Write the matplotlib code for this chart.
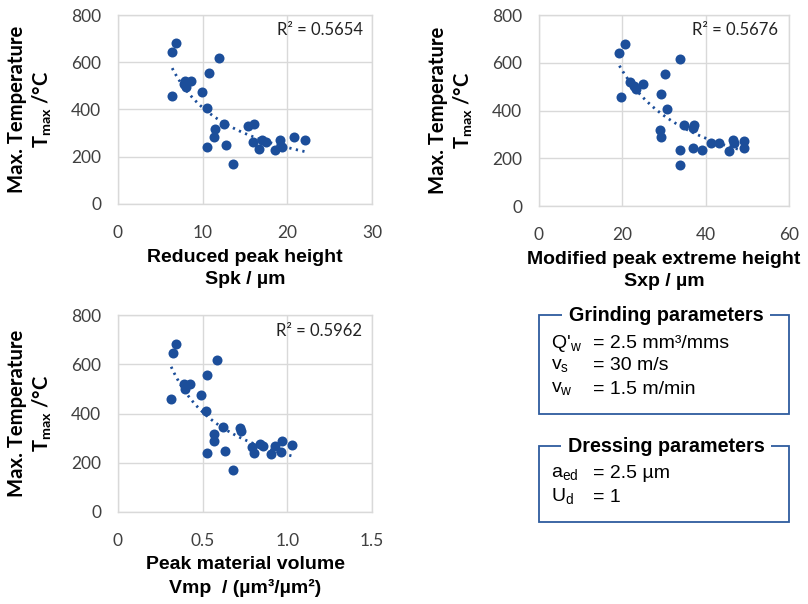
import matplotlib
matplotlib.use('Agg')
import matplotlib.pyplot as plt
import numpy as np
from matplotlib.patches import Rectangle

# Spk (reduced peak height) vs max temperature
spk = [6.9, 6.4, 11.9, 10.8, 7.9, 8.6, 8.0, 7.8, 6.4, 9.9, 10.5, 12.5, 11.5, 11.3,
       10.5, 12.7, 13.6, 15.4, 16.1, 15.9, 17.0, 17.5, 16.7, 19.1, 18.6, 19.4, 20.8, 22.1]
t_spk = [680, 643, 617, 554, 520, 520, 494, 510, 457, 474, 406, 337, 317, 285,
         243, 248, 169, 329, 339, 264, 271, 264, 234, 271, 229, 243, 282, 271]

# Sxp (modified peak extreme height)
sxp = [20.7, 19.3, 33.9, 30.3, 21.9, 24.9, 23.3, 22.7, 19.7, 29.3, 30.6, 34.8, 37.3, 37.0,
       29.0, 29.3, 33.9, 33.9, 36.9, 39.0, 41.2, 43.1, 45.6, 46.6, 46.7, 49.2, 49.2]
t_sxp = [677, 641, 614, 551, 520, 512, 492, 504, 457, 469, 406, 339, 339, 326,
         319, 288, 236, 171, 243, 236, 262, 264, 231, 276, 262, 273, 243]

# Vmp (peak material volume)
vmp = [0.340, 0.322, 0.582, 0.527, 0.389, 0.426, 0.396, 0.314, 0.488, 0.521, 0.618, 0.720, 0.726,
       0.568, 0.566, 0.527, 0.631, 0.679, 0.789, 0.838, 0.854, 0.805, 0.905, 0.929, 0.967, 0.965, 1.026]
t_vmp = [683, 645, 619, 558, 518, 518, 500, 460, 476, 410, 344, 340, 328,
         317, 290, 241, 246, 170, 264, 276, 268, 240, 236, 269, 287, 245, 273]

r2_labels = ['R² = 0.5654', 'R² = 0.5676', 'R² = 0.5962']
xlabels = ['Reduced peak height\nSpk / µm',
           'Modified peak extreme height\nSxp / µm',
           'Peak material volume\nVmp  / (µm³/µm²)']

grinding = [("Q'$_{\\mathregular{w}}$", '= 2.5 mm³/mms'),
            ('v$_{\\mathregular{s}}$', '= 30 m/s'),
            ('v$_{\\mathregular{w}}$', '= 1.5 m/min')]
dressing = [('a$_{\\mathregular{ed}}$', '= 2.5 µm'),
            ('U$_{\\mathregular{d}}$', '= 1')]

blue = '#1c4e9a'
grid_c = '#d9d9d9'
tick_font = ['Lato', 'DejaVu Sans']
label_font = ['Liberation Sans', 'DejaVu Sans']

W, H = 808, 604
fig = plt.figure(figsize=(W / 100, H / 100), dpi=100)


def px_axes(x0, y0, x1, y1):
    return fig.add_axes([x0 / W, 1 - y1 / H, (x1 - x0) / W, (y1 - y0) / H])


def scatter_panel(ax, x, y, xmax, xticks, xticklabels, r2, xlabel, r2_x, box):
    x0, y0, x1, y1 = box
    x = np.array(x)
    y = np.array(y)
    ax.scatter(x, y, s=52, color=blue, zorder=3, linewidths=0)
    # power trendline
    b, a = np.polyfit(np.log(x), np.log(y), 1)
    xs = np.linspace(x.min(), x.max(), 100)
    ax.plot(xs, np.exp(a) * xs ** b, color=blue, lw=2, ls=(0, (0.8, 1.6)), zorder=2)
    ax.set_xlim(0, xmax)
    ax.set_ylim(0, 800)
    ax.set_xticks(xticks)
    ax.set_xticklabels(xticklabels)
    ax.set_yticks([0, 200, 400, 600, 800])
    ax.grid(True, color=grid_c, lw=1)
    ax.set_axisbelow(True)
    for s in ax.spines.values():
        s.set_color(grid_c)
        s.set_linewidth(1)
    ax.tick_params(axis='y', length=0, labelsize=12.5, pad=12)
    ax.tick_params(axis='x', length=0, labelsize=12.5, pad=15)
    for t in ax.get_xticklabels() + ax.get_yticklabels():
        t.set_family(tick_font)
        t.set_color('#404040')
    ax.text(r2_x, 0.92, r2, transform=ax.transAxes, ha='right', va='center',
            fontsize=12, family=tick_font, color='#222222')
    yc = 1 - (y0 + y1) / 2 / H
    fig.text((x0 - 101) / W, yc, 'Max. Temperature', rotation=90,
             ha='center', va='center', fontsize=14.6, fontweight='bold', family=tick_font)
    fig.text((x0 - 76) / W, yc, 'T$_{\\mathregular{max}}$ /°C', rotation=90,
             ha='center', va='center', fontsize=14.6, fontweight='bold', family=tick_font)
    fig.text((x0 + x1) / 2 / W, 1 - (y1 + 64.5) / H, xlabel, ha='center', va='center',
             fontsize=14, fontweight='bold', family=label_font, linespacing=1.38)


b1 = (118, 15, 372, 204)
ax1 = px_axes(*b1)
scatter_panel(ax1, spk, t_spk, 30, [0, 10, 20, 30], ['0', '10', '20', '30'],
              r2_labels[0], xlabels[0], 0.965, b1)

b2 = (539, 15, 789, 206)
ax2 = px_axes(*b2)
scatter_panel(ax2, sxp, t_sxp, 60, [0, 20, 40, 60], ['0', '20', '40', '60'],
              r2_labels[1], xlabels[1], 0.955, b2)

b3 = (118, 315, 372, 512)
ax3 = px_axes(*b3)
scatter_panel(ax3, vmp, t_vmp, 1.5, [0, 0.5, 1.0, 1.5], ['0', '0.5', '1.0', '1.5'],
              r2_labels[2], xlabels[2], 0.96, b3)


def param_box(y_top, y_bot, title, rows):
    x0, x1 = 539, 789
    fig.patches.append(Rectangle((x0 / W, 1 - y_bot / H), (x1 - x0) / W, (y_bot - y_top) / H,
                                 transform=fig.transFigure, fill=False,
                                 edgecolor='#2e5c9e', lw=1.3))
    fig.text(666 / W, 1 - y_top / H, title, ha='center', va='center', fontsize=14.2,
             fontweight='bold', family='Liberation Sans',
             bbox=dict(facecolor='white', edgecolor='none', boxstyle='square,pad=0.35'))
    y = y_top + 28
    for name, val in rows:
        fig.text(551 / W, 1 - y / H, name, ha='left', va='center', fontsize=14,
                 family='Liberation Sans')
        fig.text(593 / W, 1 - y / H, val, ha='left', va='center', fontsize=14,
                 family='Liberation Sans')
        y += 23


param_box(315, 414, 'Grinding parameters', grinding)
param_box(446, 522, 'Dressing parameters', dressing)

fig.savefig('out.png', dpi=100)
